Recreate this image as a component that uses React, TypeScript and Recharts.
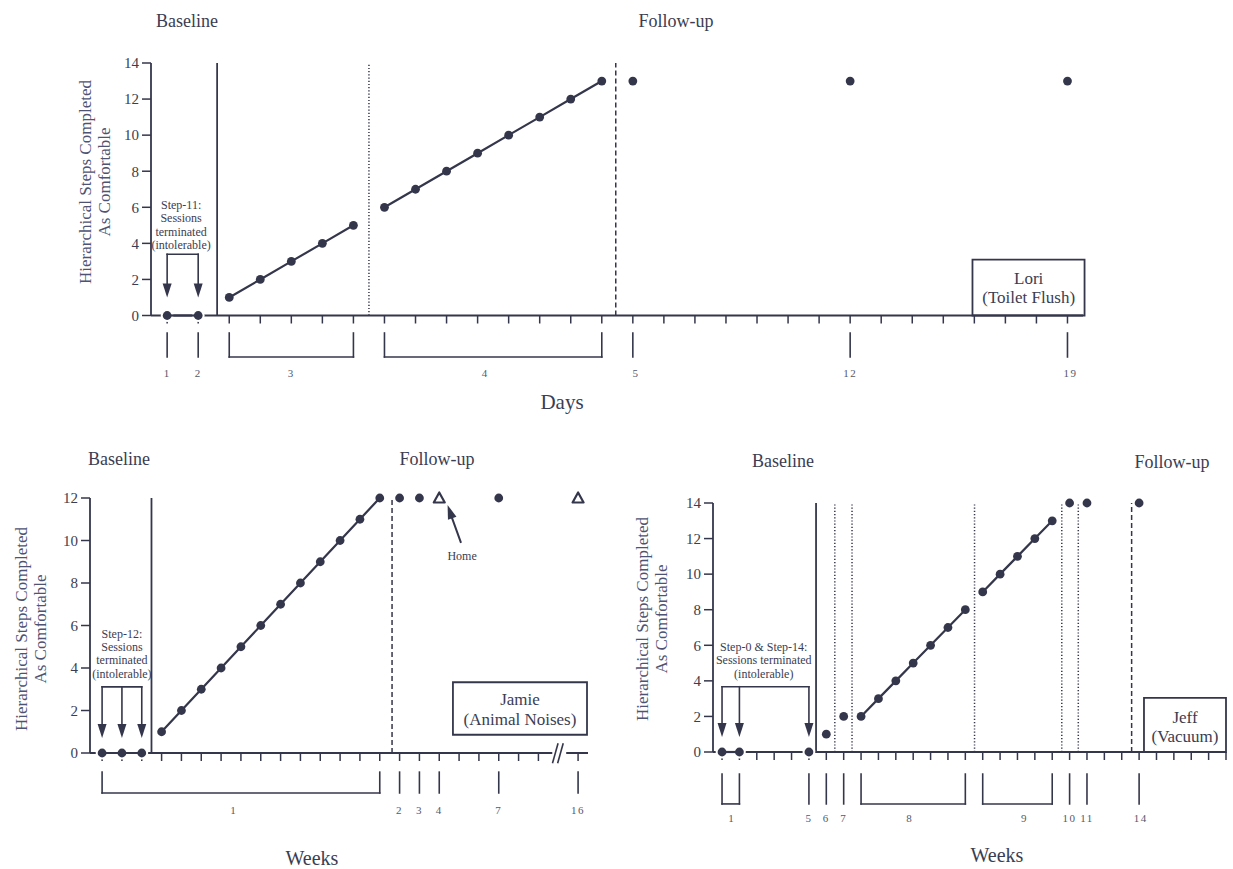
import React from 'react';
import { ComposedChart, Line, XAxis, YAxis, ReferenceLine, ReferenceDot, ReferenceArea } from 'recharts';

const INK = '#34364b';
const TEXT = '#3b3d52';
const SOFT = '#55586c';
const AXIS_LABEL = '#4e5374';
const FONT = '"Liberation Serif", "DejaVu Serif", "Noto Serif", "Times New Roman", Times, serif';

// ---- Lori (Toilet Flush): x = session number, y = steps ----
const loriBaselineX = [1, 2];
const loriBaselineY = [0, 0];
const loriDay3X = [3, 4, 5, 6, 7];
const loriDay3Y = [1, 2, 3, 4, 5];
const loriDay4X = [8, 9, 10, 11, 12, 13, 14, 15];
const loriDay4Y = [6, 7, 8, 9, 10, 11, 12, 13];
const loriFollowX = [16, 23, 30];
const loriFollowY = [13, 13, 13];
const loriDayLabels = ['1', '2', '3', '4', '5', '12', '19'];
const loriDayAt = [1, 2, 5, 11.25, 16.1, 23, 30.1];
const loriGroups = [[1, 1], [2, 2], [3, 7], [8, 15], [16, 16], [23, 23], [30, 30]];

// ---- Jamie (Animal Noises) ----
const jamieBaselineX = [1, 2, 3];
const jamieBaselineY = [0, 0, 0];
const jamieTreatX = [4, 5, 6, 7, 8, 9, 10, 11, 12, 13, 14, 15];
const jamieTreatY = [1, 2, 3, 4, 5, 6, 7, 8, 9, 10, 11, 12];
const jamieFollowX = [16, 17, 21];
const jamieFollowY = [12, 12, 12];
const jamieHomeX = [18, 25];
const jamieHomeY = [12, 12];
const jamieWeekLabels = ['1', '2', '3', '4', '7', '16'];
const jamieWeekAt = [7.64, 16, 17, 18, 21, 25];
const jamieGroups = [[1, 15], [16, 16], [17, 17], [18, 18], [21, 21], [25, 25]];

// ---- Jeff (Vacuum) ----
const jeffBaselineX = [1, 2];
const jeffBaselineY = [0, 0];
const jeffProbeX = [6, 7, 8];
const jeffProbeY = [0, 1, 2];
const jeffWeek8X = [9, 10, 11, 12, 13, 14, 15];
const jeffWeek8Y = [2, 3, 4, 5, 6, 7, 8];
const jeffWeek9X = [16, 17, 18, 19, 20];
const jeffWeek9Y = [9, 10, 11, 12, 13];
const jeffFollowX = [21, 22, 25];
const jeffFollowY = [14, 14, 14];
const jeffWeekLabels = ['1', '5', '6', '7', '8', '9', '10', '11', '14'];
const jeffWeekAt = [1.56, 6, 7, 8, 11.8, 18.4, 21, 22, 25.1];
const jeffGroups = [[1, 2], [6, 6], [7, 7], [8, 8], [9, 15], [16, 20], [21, 21], [22, 22], [25, 25]];

const steps14 = [0, 2, 4, 6, 8, 10, 12, 14];
const steps12 = [0, 2, 4, 6, 8, 10, 12];

const range = (a: number, b: number) => Array.from({ length: b - a + 1 }, (_, i) => a + i);
const pts = (xs: number[], ys: number[]) => xs.map((x, i) => ({ x, y: ys[i] }));

const haloDot = (p: any) => {
  const { cx, cy, index } = p;
  if (cx == null || cy == null) return <g key={`n${index}`} />;
  return (
    <g key={`d${index}`}>
      <circle cx={cx} cy={cy} r={6.4} fill="#fff" />
      <circle cx={cx} cy={cy} r={4.4} fill={INK} />
    </g>
  );
};

const triDot = (p: any) => {
  const { cx, cy, index } = p;
  if (cx == null || cy == null) return <g key={`n${index}`} />;
  return (
    <polygon key={`t${index}`} points={`${cx},${cy - 5.5} ${cx - 5.5},${cy + 4.5} ${cx + 5.5},${cy + 4.5}`}
      fill="#fff" stroke={INK} strokeWidth={2.2} strokeLinejoin="round" />
  );
};

const series = (key: string, xs: number[], ys: number[], joined = true, dot: any = haloDot) => (
  <Line key={key} data={pts(xs, ys)} dataKey="y" stroke={joined ? INK : 'none'} strokeWidth={2.2}
    dot={dot} activeDot={false} isAnimationActive={false} legendType="none" zIndex={600} />
);

const phase = (key: string, x: number, style: string) => (
  <ReferenceLine key={key} x={x} stroke={INK} strokeWidth={style === 'solid' ? 1.8 : 1.5}
    strokeDasharray={style === 'dotted' ? '1.2 2' : style === 'dashed' ? '5 3' : undefined} />
);

const seg = (key: string, x1: number, y1: number, x2: number, y2: number, w = 1.6, color = INK, z?: number) => (
  <ReferenceLine key={key} segment={[{ x: x1, y: y1 }, { x: x2, y: y2 }]} stroke={color} strokeWidth={w}
    strokeLinecap="square" ifOverflow="visible" zIndex={z} />
);

const note = (key: string, x: number, y: number, text: string, size: number, color = TEXT, spacing = 0) => (
  <ReferenceDot key={key} x={x} y={y} r={0} ifOverflow="visible"
    shape={(p: any) => (
      <text x={p.cx} y={p.cy} textAnchor="middle" dominantBaseline="central" fontFamily={FONT}
        fontSize={size} fill={color} letterSpacing={spacing}>{text}</text>
    )} />
);

const head = (key: string, x: number, y: number, angle = 0) => (
  <ReferenceDot key={key} x={x} y={y} r={0} ifOverflow="visible"
    shape={(p: any) => (
      <polygon points={`${p.cx},${p.cy} ${p.cx - 4.5},${p.cy - 14} ${p.cx + 4.5},${p.cy - 14}`} fill={INK}
        transform={`rotate(${angle} ${p.cx} ${p.cy})`} />
    )} />
);

function groupMarks(id: string, groups: number[][], top: number, bottom: number) {
  const out: any[] = [];
  groups.forEach(([a, b], i) => {
    out.push(seg(`${id}a${i}`, a, top, a, bottom));
    if (b !== a) {
      out.push(seg(`${id}b${i}`, b, top, b, bottom));
      out.push(seg(`${id}c${i}`, a, bottom, b, bottom));
    }
  });
  return out;
}

function arrowSet(id: string, xs: number[], top: number, tip: number, lift: number) {
  const out: any[] = [seg(`${id}h`, xs[0], top, xs[xs.length - 1], top)];
  xs.forEach((x, i) => {
    out.push(seg(`${id}v${i}`, x, top, x, tip + lift));
    out.push(head(`${id}t${i}`, x, tip));
  });
  return out;
}

const labelRow = (id: string, labels: string[], at: number[], y: number) =>
  labels.map((l, i) => note(`${id}${i}`, at[i], y, l, 11, SOFT, 1.5));

const blank = () => '';

const xAxisBase = {
  type: 'number' as const, dataKey: 'x', tickFormatter: blank, tickSize: 8, interval: 0 as const,
  tickLine: { stroke: INK, strokeWidth: 1.5 }, axisLine: { stroke: INK, strokeWidth: 1.8 },
  height: 20,
};
const yAxisBase = {
  type: 'number' as const, width: 50, tickSize: 9, tickMargin: 3, interval: 0 as const,
  tick: { fill: TEXT, fontSize: 15, fontFamily: FONT },
  tickLine: { stroke: INK, strokeWidth: 1.5 }, axisLine: { stroke: INK, strokeWidth: 1.8 },
};

const Txt = ({ x, y, size, color = TEXT, rotate = false, children }: any) => (
  <div style={{
    position: 'absolute', left: x, top: y, transform: `translate(-50%, -50%)${rotate ? ' rotate(-90deg)' : ''}`,
    fontFamily: FONT, fontSize: size, color, whiteSpace: 'nowrap', lineHeight: '19px', textAlign: 'center',
  }}>{children}</div>
);

const YLabel = ({ x, y }: any) => (
  <Txt x={x} y={y} size={17} color={AXIS_LABEL} rotate>
    Hierarchical Steps Completed<br />As Comfortable
  </Txt>
);

export default function App() {
  return (
    <div style={{ position: 'absolute', left: 0, top: 0, width: 1233, height: 869, background: '#fff', overflow: 'hidden', fontFamily: FONT }}>
      {/* Lori */}
      <div style={{ position: 'absolute', left: 0, top: 0 }}>
        <ComposedChart width={1233} height={430} margin={{ top: 63, right: 150, bottom: 94.5, left: 101 }}>
          <XAxis {...xAxisBase} domain={[0.48, 30.5]} ticks={range(1, 30)} />
          <YAxis {...yAxisBase} domain={[0, 14]} ticks={steps14} />
          {phase('p1', 2.61, 'solid')}
          {phase('p2', 7.5, 'dotted')}
          {phase('p3', 15.45, 'dashed')}
          {groupMarks('g', loriGroups, -0.97, -2.3)}
          {labelRow('l', loriDayLabels, loriDayAt, -3.18)}
          {note('s1', 1.45, 6.12, 'Step-11:', 12)}
          {note('s2', 1.45, 5.38, 'Sessions', 12)}
          {note('s3', 1.45, 4.64, 'terminated', 12)}
          {note('s4', 1.45, 3.9, '(intolerable)', 12)}
          {arrowSet('a', [1, 2], 3.4, 1.0, 0.4)}
          <ReferenceArea x1={26.94} x2={30.55} y1={0} y2={3.1} fill="#fff" fillOpacity={1} stroke={INK}
            strokeWidth={1.8} ifOverflow="visible" />
          {note('b1', 28.75, 2.04, 'Lori', 17)}
          {note('b2', 28.75, 1.02, '(Toilet Flush)', 17)}
          {series('lb', loriBaselineX, loriBaselineY)}
          {series('l3', loriDay3X, loriDay3Y)}
          {series('l4', loriDay4X, loriDay4Y)}
          {series('lf', loriFollowX, loriFollowY, false)}
        </ComposedChart>
      </div>

      {/* Jamie */}
      <div style={{ position: 'absolute', left: 0, top: 430 }}>
        <ComposedChart width={616} height={439} margin={{ top: 68, right: 28, bottom: 96, left: 40 }}>
          <XAxis {...xAxisBase} domain={[0.39, 25.5]} ticks={[...range(1, 23), 25]} />
          <YAxis {...yAxisBase} domain={[0, 12]} ticks={steps12} />
          {phase('p1', 3.49, 'solid')}
          {phase('p2', 15.62, 'dashed')}
          {groupMarks('g', jamieGroups, -0.9, -1.88)}
          {labelRow('l', jamieWeekLabels, jamieWeekAt, -2.68)}
          {note('s1', 2.0, 5.6, 'Step-12:', 12)}
          {note('s2', 2.0, 4.98, 'Sessions', 12)}
          {note('s3', 2.0, 4.36, 'terminated', 12)}
          {note('s4', 2.0, 3.74, '(intolerable)', 12)}
          {arrowSet('a', [1, 2, 3], 3.11, 0.71, 0.35)}
          {seg('hm', 19.08, 9.93, 18.55, 11.3, 2)}
          {head('hh', 18.42, 11.67, 160.7)}
          {note('hn', 19.15, 9.27, 'Home', 12)}
          <ReferenceArea x1={18.69} x2={25.45} y1={0.86} y2={3.33} fill="#fff" fillOpacity={1} stroke={INK}
            strokeWidth={1.8} ifOverflow="visible" />
          {note('b1', 22.07, 2.5, 'Jamie', 17)}
          {note('b2', 22.07, 1.6, '(Animal Noises)', 17)}
          {seg('bw', 23.8, 0, 24.3, 0, 4, '#fff', 650)}
          {seg('bk1', 23.72, -0.45, 23.98, 0.42, 1.6, INK, 660)}
          {seg('bk2', 23.98, -0.45, 24.24, 0.42, 1.6, INK, 660)}
          {series('jb', jamieBaselineX, jamieBaselineY)}
          {series('jt', jamieTreatX, jamieTreatY)}
          {series('jf', jamieFollowX, jamieFollowY, false)}
          {series('jh', jamieHomeX, jamieHomeY, false, triDot)}
        </ComposedChart>
      </div>

      {/* Jeff */}
      <div style={{ position: 'absolute', left: 616, top: 430 }}>
        <ComposedChart width={617} height={439} margin={{ top: 73, right: 7, bottom: 97, left: 47 }}>
          <XAxis {...xAxisBase} domain={[0.48, 30]} ticks={range(1, 30)} />
          <YAxis {...yAxisBase} domain={[0, 14]} ticks={steps14} />
          {phase('p1', 6.41, 'solid')}
          {phase('p2', 7.49, 'dotted')}
          {phase('p3', 8.48, 'dotted')}
          {phase('p4', 15.53, 'dotted')}
          {phase('p5', 20.55, 'dotted')}
          {phase('p6', 21.5, 'dotted')}
          {phase('p7', 24.57, 'dashed')}
          {groupMarks('g', jeffGroups, -1.24, -2.92)}
          {labelRow('l', jeffWeekLabels, jeffWeekAt, -3.7)}
          {note('s1', 3.4, 5.92, 'Step-0 & Step-14:', 12)}
          {note('s2', 3.4, 5.17, 'Sessions terminated', 12)}
          {note('s3', 3.4, 4.4, '(intolerable)', 12)}
          {arrowSet('a', [1, 2, 6], 3.67, 0.85, 0.45)}
          <ReferenceArea x1={25.28} x2={30} y1={0} y2={3.04} fill="#fff" fillOpacity={1} stroke={INK}
            strokeWidth={1.8} ifOverflow="visible" />
          {note('b1', 27.64, 1.92, 'Jeff', 17)}
          {note('b2', 27.64, 0.86, '(Vacuum)', 17)}
          {series('fb', jeffBaselineX, jeffBaselineY)}
          {series('fp', jeffProbeX, jeffProbeY, false)}
          {series('f8', jeffWeek8X, jeffWeek8Y)}
          {series('f9', jeffWeek9X, jeffWeek9Y)}
          {series('ff', jeffFollowX, jeffFollowY, false)}
        </ComposedChart>
      </div>

      <Txt x={187} y={21} size={18}>Baseline</Txt>
      <Txt x={676} y={21} size={18}>Follow-up</Txt>
      <Txt x={562} y={402} size={21}>Days</Txt>
      <YLabel x={95} y={182} />

      <Txt x={119} y={459} size={18}>Baseline</Txt>
      <Txt x={437} y={459} size={18}>Follow-up</Txt>
      <Txt x={312} y={858} size={20}>Weeks</Txt>
      <YLabel x={31} y={629} />

      <Txt x={783} y={461} size={18}>Baseline</Txt>
      <Txt x={1172} y={462} size={18}>Follow-up</Txt>
      <Txt x={997} y={855} size={20}>Weeks</Txt>
      <YLabel x={652} y={619} />
    </div>
  );
}
